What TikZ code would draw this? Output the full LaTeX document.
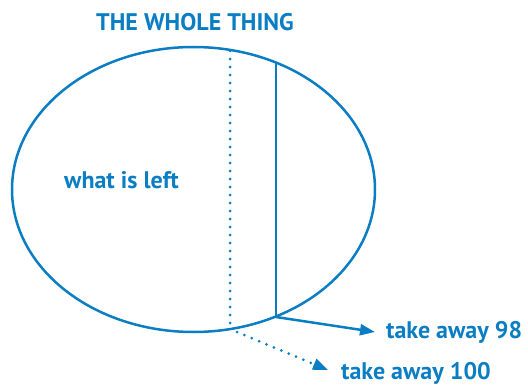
\documentclass[tikz,border=0pt]{standalone}
\usepackage{fontspec}
\setmainfont{PT Sans}
\usepackage{xcolor}
\definecolor{WholeBlue}{RGB}{10, 125, 195}
\usetikzlibrary{arrows.meta, positioning, shapes.geometric}

\begin{document}
\begin{tikzpicture}[
            x=1pt, y=-1pt,
            whole/.style={draw=WholeBlue, line width=2.5pt, ellipse, minimum width=363pt, minimum height=285pt, inner sep=0pt},
            label/.style={font=\fontsize{24}{26}\selectfont\bfseries, text=WholeBlue, inner sep=0pt},
            cut/.style={draw=WholeBlue, line width=2.5pt},
            dots/.style={draw=WholeBlue, line width=3pt, line cap=round, dash pattern=on 0pt off 8pt},
            arrow/.style={-{Triangle[length=15pt, width=11pt]}, WholeBlue}
        ]
        \useasboundingbox (0, 0) rectangle (528, 385);

        % The whole thing
        \node[whole] (oval) at (193.5, 189.5) {};
        \node[label, anchor=base] (title) at (195, 31) {THE WHOLE THING};
        \node[label, anchor=base west] (left) at (64, 189) {what is left};

        % Dotted cut (100) and solid cut (98)
        \coordinate (d1) at (230, 51);
        \coordinate (d2) at (230, 324);
        \coordinate (s1) at (276, 62);
        \coordinate (s2) at (276, 317);
        \draw[dots] (d1) -- (d2);
        \draw[cut] (s1) -- (s2);

        % Labels for the parts taken away
        \node[label, anchor=base west] (take98) at (386, 338) {take away 98};
        \node[label, anchor=base west] (take100) at (341, 379) {take away 100};

        \coordinate (a98) at (375, 332);
        \coordinate (a100start) at (237, 332);
        \coordinate (a100) at (328, 370);
        \draw[cut, arrow] (s2) -- (a98);
        \draw[dots, arrow] (a100start) -- (a100);

        \end{tikzpicture}
\end{document}
